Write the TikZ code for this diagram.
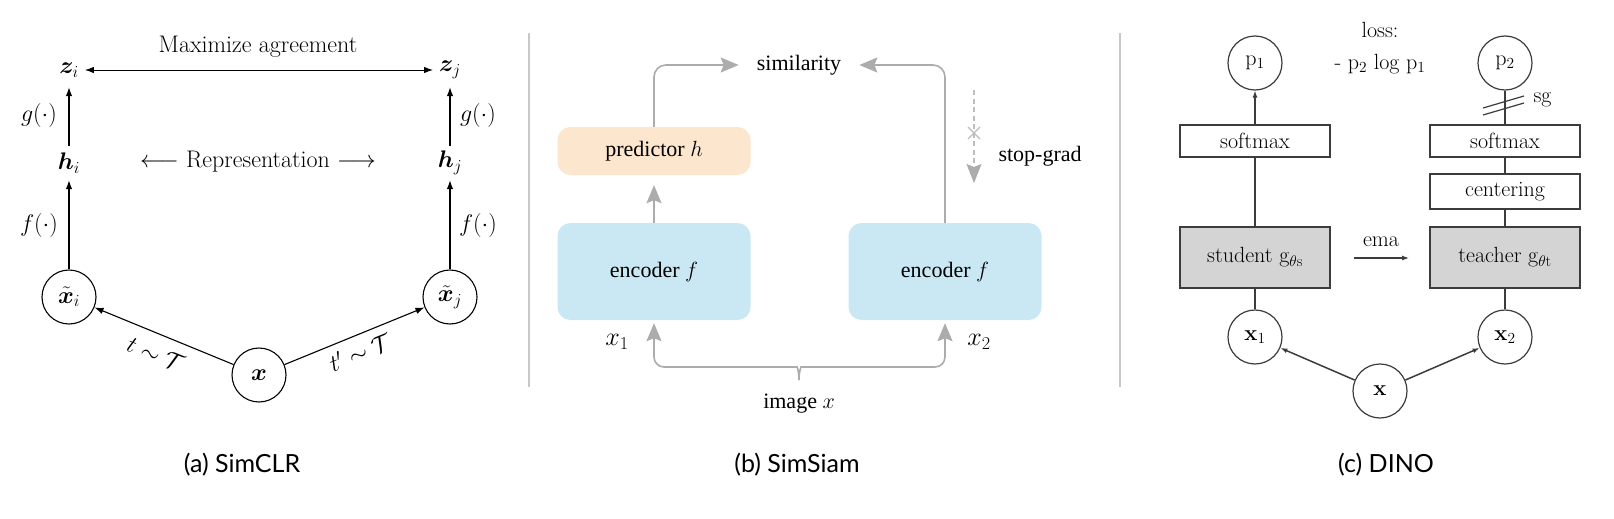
\RequirePackage{fix-cm}
\documentclass[tikz,border=0pt]{standalone}
\usepackage{amsmath,bm}
\usepackage{fontspec}
\newfontfamily\capfont{Lato}
\newfontfamily\timesfont{Liberation Serif}
\usetikzlibrary{arrows.meta,calc}
\definecolor{peach}{RGB}{252,230,206}
\definecolor{ice}{RGB}{201,232,243}
\definecolor{lgray}{RGB}{172,172,172}
\definecolor{sepgray}{RGB}{200,200,200}
\definecolor{dgray}{RGB}{60,60,60}
\definecolor{boxgray}{RGB}{212,212,212}
\tikzset{
  afont/.style={font=\fontsize{24}{28}\selectfont},
  alabel/.style={afont, inner sep=0pt, minimum height=34pt},
  acirc/.style={afont, circle, draw, line width=1.1pt, minimum size=54pt, inner sep=0pt},
  aarr/.style={-{Latex[length=9pt,width=6.5pt]}, line width=1.1pt},
  aarrb/.style={{Latex[length=9pt,width=6.5pt]}-{Latex[length=9pt,width=6.5pt]}, line width=0.9pt},
  bfont/.style={font=\timesfont\fontsize{22}{26}\selectfont},
  bbox/.style={bfont, rounded corners=13pt, inner sep=0pt, minimum width=193pt},
  gline/.style={draw=lgray, line width=1.6pt},
  garr/.style={gline, -{Stealth[length=18pt,width=15pt,inset=3pt]}},
  cfont/.style={font=\fontsize{22}{26}\selectfont},
  cbox/.style={cfont, draw=dgray, line width=1.5pt, minimum width=150pt, inner sep=0pt},
  ccirc/.style={cfont, circle, draw=dgray, line width=1.2pt, minimum size=54pt, inner sep=0pt},
  cline/.style={draw=dgray, line width=1.2pt},
  carr/.style={cline, -{Latex[length=7pt,width=5pt]}},
  sep/.style={draw=sepgray, line width=1.8pt},
  capt/.style={font=\capfont\fontsize{25}{30}\selectfont}
}
\begin{document}
\begin{tikzpicture}[x=1pt,y=-1pt]
\useasboundingbox[fill=white] (0,0) rectangle (1614,519);

% ---------------- (a) SimCLR ----------------
\node[alabel] (zi) at (69,70) {$\bm{z}_i$};
\node[alabel] (zj) at (450,70) {$\bm{z}_j$};
\node[alabel] (hi) at (69,163) {$\bm{h}_i$};
\node[alabel] (hj) at (450,163) {$\bm{h}_j$};
\node[acirc] (xti) at (69,297) {$\bm{\tilde{x}}_i$};
\node[acirc] (xtj) at (450,297) {$\bm{\tilde{x}}_j$};
\node[acirc] (xa) at (259,375) {$\bm{x}$};
\node[afont] (maxag) at (258,47) {Maximize agreement};
\node[afont] (repr) at (258,162) {$\longleftarrow$ Representation $\longrightarrow$};
\node[afont] (gl) at (39,115) {$g(\cdot)$};
\node[afont] (fl) at (39,225) {$f(\cdot)$};
\node[afont] (gr) at (478,115) {$g(\cdot)$};
\node[afont] (fr) at (478,225) {$f(\cdot)$};
\node[afont, rotate=-22] (tl) at (156,354) {$t\sim\mathcal{T}$};
\node[afont, rotate=22] (tr) at (360,352) {$t'\sim\mathcal{T}$};
\draw[aarrb, shorten <=6pt, shorten >=6pt] (zi) -- (zj);
\draw[aarr] (hi) -- (zi);
\draw[aarr] (hj) -- (zj);
\draw[aarr] (xti) -- (hi);
\draw[aarr] (xtj) -- (hj);
\draw[aarr] (xa) -- (xti);
\draw[aarr] (xa) -- (xtj);

% ---------------- separators ----------------
\coordinate (s1a) at (529,33);
\coordinate (s1b) at (529,387);
\coordinate (s2a) at (1120,33);
\coordinate (s2b) at (1120,387);
\draw[sep] (s1a) -- (s1b);
\draw[sep] (s2a) -- (s2b);

% ---------------- (b) SimSiam ----------------
\node[bbox, fill=peach, minimum height=48pt] (pred) at (654,151) {predictor $h$};
\node[bbox, fill=ice, minimum height=97pt] (enc1) at (654,271.5) {encoder $f$};
\node[bbox, fill=ice, minimum height=97pt] (enc2) at (945,271.5) {encoder $f$};
\node[bfont, inner xsep=18pt, inner ysep=0pt] (sim) at (799,65) {similarity};
\node[bfont, font=\fontsize{26}{30}\selectfont] (x1b) at (617,342) {$x_1$};
\node[bfont, font=\fontsize{26}{30}\selectfont] (x2b) at (979,342) {$x_2$};
\node[bfont] (img) at (799,404) {image $x$};
\node[bfont, anchor=west] (sgt) at (995,156) {stop-grad};
\draw[garr, shorten >=10pt] (enc1.north) -- (pred.south);
\draw[garr, rounded corners=12pt] (pred.north) |- (sim.west);
\draw[garr, rounded corners=12pt] (enc2.north) |- (sim.east);
\coordinate (brace) at (799,380);
\draw[garr, rounded corners=10pt, shorten >=3pt] (brace) .. controls (799,371) and (797,367) .. (787,367) -- (654,367) -- (enc1.south);
\draw[garr, rounded corners=10pt, shorten >=3pt] (brace) .. controls (799,371) and (801,367) .. (811,367) -- (945,367) -- (enc2.south);
\coordinate (sgA) at (974,90);
\coordinate (sgB) at (974,183);
\draw[draw=lgray!80, line width=1.1pt, dash pattern=on 5pt off 3.5pt, -{Stealth[length=19pt,width=15pt,inset=3pt, lgray]}] (sgA) -- (sgB);
\coordinate (cx) at (974,133);
\draw[draw=lgray!80, line width=1.1pt] ($(cx)+(-6,-6)$) -- ($(cx)+(6,6)$);
\draw[draw=lgray!80, line width=1.1pt] ($(cx)+(-6,6)$) -- ($(cx)+(6,-6)$);

% ---------------- (c) DINO ----------------
\node[ccirc] (p1) at (1255,63) {p$_1$};
\node[ccirc] (p2) at (1505,63) {p$_2$};
\node[cfont] (loss) at (1380,30) {loss:};
\node[cfont] (lossf) at (1380,64) {- p$_2$ log p$_1$};
\node[cbox, minimum height=32pt] (sm1) at (1255,141) {softmax};
\node[cbox, minimum height=32pt] (sm2) at (1505,141) {softmax};
\node[cbox, minimum height=35pt] (cent) at (1505,191.5) {centering};
\node[cbox, fill=boxgray, minimum height=61pt] (stu) at (1255,257.5) {student g$_{\theta\mathrm{s}}$};
\node[cbox, fill=boxgray, minimum height=61pt] (tea) at (1505,257.5) {teacher g$_{\theta\mathrm{t}}$};
\node[ccirc] (x1c) at (1255,337) {\textbf{x}$_1$};
\node[ccirc] (x2c) at (1505,337) {\textbf{x}$_2$};
\node[ccirc] (xc) at (1380,391) {\textbf{x}};
\node[cfont] (ema) at (1381,242) {ema};
\coordinate (emaA) at (1354,258);
\coordinate (emaB) at (1409,258);
\draw[carr] (emaA) -- (emaB);
\draw[carr] (sm1) -- (p1);
\draw[cline] (stu) -- (sm1);
\draw[cline] (x1c) -- (stu);
\draw[cline] (p2) -- (sm2);
\draw[cline] (sm2) -- (cent);
\draw[cline] (cent) -- (tea);
\draw[cline] (tea) -- (x2c);
\draw[carr, line width=1.5pt] (xc) -- (x1c);
\draw[carr, line width=1.5pt] (xc) -- (x2c);
\coordinate (sgm) at (1505,103);
\draw[cline] ($(sgm)+(-22,5)$) -- ($(sgm)+(19,-7)$);
\draw[cline] ($(sgm)+(-22,12)$) -- ($(sgm)+(19,0)$);
\node[cfont, anchor=west] (sg) at (1530,100) {sg};

% ---------------- captions ----------------
\node[capt] (ca) at (242,465) {(a) SimCLR};
\node[capt] (cb) at (797,465) {(b) SimSiam};
\node[capt] (cc) at (1386,465) {(c) DINO};
\end{tikzpicture}
\end{document}
